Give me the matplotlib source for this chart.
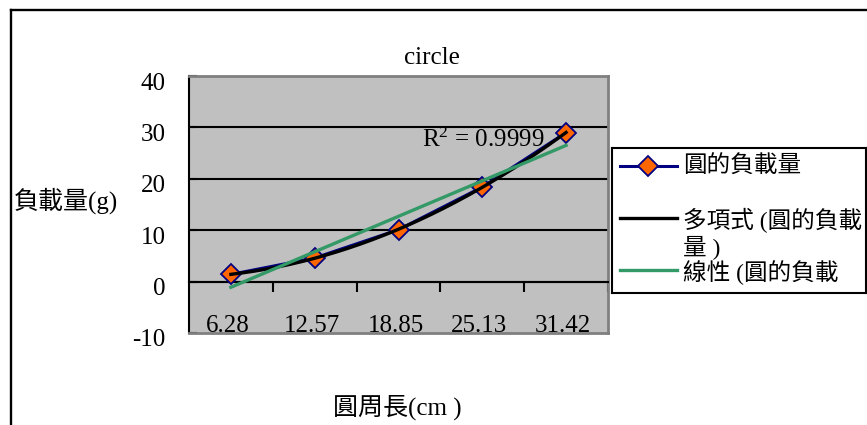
"""
Load on a circle versus its circumference, with polynomial and linear trendlines.
"""

import numpy as np
import matplotlib.pyplot as plt
from matplotlib.lines import Line2D
from matplotlib.transforms import blended_transform_factory, ScaledTranslation

W, H = 867, 425
DPI = 100

# data
circumference = ['6.28', '12.57', '18.85', '25.13', '31.42']
load_g = [1.4, 4.6, 10.1, 18.4, 29.0]
y_ticks = [-10, 0, 10, 20, 30, 40]
r2_label = 'R$^{2}$ = 0.9999'
legend_labels = ['圓的負載量', '多項式 (圓的負載\n量 )', '線性 (圓的負載']

NAVY = '#000080'
ORANGE = '#FF6600'
GREEN = '#339966'
PLOT_BG = '#C0C0C0'
GRAY = '#808080'

plt.rcParams['font.family'] = ['Liberation Serif', 'Noto Sans CJK TC']
plt.rcParams['mathtext.fontset'] = 'custom'
plt.rcParams['mathtext.rm'] = 'Liberation Serif'
plt.rcParams['mathtext.it'] = 'Liberation Serif:italic'
plt.rcParams['axes.unicode_minus'] = False


def fx(x):
  return x / W


def fy(y):
  return 1 - y / H


fig = plt.figure(figsize=(W / DPI, H / DPI), dpi=DPI)

# outer chart frame (runs off the right and bottom edges)
fig.add_artist(Line2D([fx(11), 1], [fy(10), fy(10)], transform=fig.transFigure, color='black', lw=1.7))
fig.add_artist(Line2D([fx(11), fx(11)], [fy(10), 0], transform=fig.transFigure, color='black', lw=1.7))

ax = fig.add_axes([fx(189), fy(333), fx(608) - fx(189), fy(76) - fy(333)])
ax.set_facecolor(PLOT_BG)
x = np.arange(len(circumference))
ax.set_xlim(-0.5, len(x) - 0.5)
ax.set_ylim(y_ticks[0], y_ticks[-1])

# horizontal gridlines
for v in y_ticks[1:-1]:
  ax.axhline(v, color='black', lw=1.5, zorder=1)

# series and trendlines
ax.plot(x, load_g, color=NAVY, lw=2.2, marker='D', ms=10.5, mfc=ORANGE, mec=NAVY, mew=1.3, zorder=3)
xs = np.linspace(x[0], x[-1], 200)
poly = np.polyfit(x, load_g, 2)
ax.plot(xs, np.polyval(poly, xs), color='black', lw=2.4, zorder=4)
lin = np.polyfit(x, load_g, 1)
ax.plot(xs, np.polyval(lin, xs), color=GREEN, lw=2.4, zorder=5)

# spines: x axis sits at zero, plot border is gray
for s in ['top', 'right']:
  ax.spines[s].set_color(GRAY)
  ax.spines[s].set_linewidth(2)
ax.spines['left'].set_color('black')
ax.spines['left'].set_linewidth(1.5)
ax.spines['bottom'].set_position(('data', 0))
ax.spines['bottom'].set_color('black')
ax.spines['bottom'].set_linewidth(1.5)
ax.plot([0, 1], [0, 0], transform=ax.transAxes, color=GRAY, lw=2, clip_on=False, zorder=6)

ax.set_xticks(x + 0.5)
ax.tick_params(axis='x', direction='out', length=7, width=1.5, color='black', labelbottom=False)
ax.set_yticks(y_ticks)
ax.tick_params(axis='y', direction='in', length=6, width=1.5, color='black', labelsize=18, pad=17)
shift = ScaledTranslation(0, -5 / DPI, fig.dpi_scale_trans)
for lbl in ax.get_yticklabels():
  lbl.set_transform(lbl.get_transform() + shift)

# category labels along the bottom of the plot area
cat_trans = blended_transform_factory(ax.transData, ax.transAxes) + ScaledTranslation(-3 / DPI, 0, fig.dpi_scale_trans)
for xi, lab in zip(x, circumference):
  ax.text(xi, 0.005, lab, transform=cat_trans, ha='center', va='baseline', fontsize=18, zorder=7)

# titles and labels
fig.text(fx(432), fy(58), 'circle', ha='center', va='center', fontsize=18)
fig.text(fx(422), fy(147), r2_label, ha='left', va='baseline', fontsize=18)
fig.text(fx(14), fy(201), '負載量(g)', ha='left', va='center', fontsize=18)
fig.text(fx(333), fy(407), '圓周長(cm )', ha='left', va='center', fontsize=18)

# legend box
lax = fig.add_axes([fx(612), fy(293), fx(866) - fx(612), fy(148) - fy(293)])
lax.set_xlim(612, 866)
lax.set_ylim(293, 148)
lax.set_xticks([])
lax.set_yticks([])
lax.set_facecolor('white')
for s in lax.spines.values():
  s.set_color('black')
  s.set_linewidth(1.5)

row_y = [166, 218, 270]
styles = [
  dict(color=NAVY, lw=2.2),
  dict(color='black', lw=2.4),
  dict(color=GREEN, lw=2.4),
]
for y, st, lab in zip(row_y, styles, legend_labels):
  lax.plot([620, 677], [y, y], **st)
  lax.text(683, y - 10, lab, ha='left', va='top', fontsize=17, linespacing=1.15)
lax.plot([648], [row_y[0]], marker='D', ms=10.5, mfc=ORANGE, mec=NAVY, mew=1.3, lw=0)

fig.savefig('out.png', dpi=DPI)
plt.close(fig)
